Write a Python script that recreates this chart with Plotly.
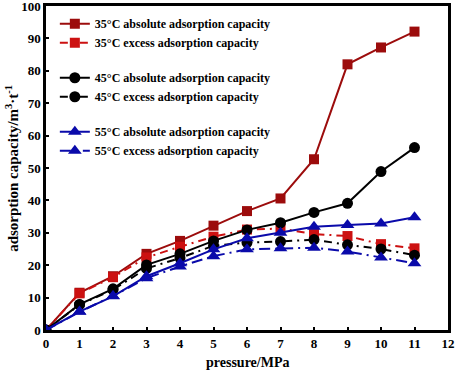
import plotly.graph_objects as go

pressure = [0, 1, 2, 3, 4, 5, 6, 7, 8, 9, 10, 11]

abs_35 = [0, 11.5, 16.6, 23.5, 27.5, 32.2, 36.7, 40.6, 52.7, 82.0, 87.2, 92.1]
exc_35 = [0, 11.3, 16.3, 22.4, 25.7, 28.8, 31.0, 31.3, 29.6, 29.0, 26.5, 25.2]
abs_45 = [0, 7.9, 12.7, 20.1, 23.5, 27.5, 30.9, 33.1, 36.3, 39.1, 48.9, 56.3]
exc_45 = [0, 7.8, 12.4, 19.0, 22.2, 26.0, 27.0, 27.3, 27.9, 26.3, 25.0, 23.1]
abs_55 = [0, 5.7, 10.4, 16.6, 20.6, 24.9, 28.3, 30.0, 31.9, 32.4, 32.9, 34.8]
exc_55 = [0, 5.6, 10.5, 16.0, 19.6, 22.8, 24.9, 25.2, 25.4, 24.2, 22.4, 20.6]

names = [
    "35°C absolute adsorption capacity",
    "35°C excess adsorption capacity",
    "45°C absolute adsorption capacity",
    "45°C excess adsorption capacity",
    "55°C absolute adsorption capacity",
    "55°C excess adsorption capacity",
]
x_title = "pressure/MPa"
y_title = "adsorption capacity/m<sup>3</sup>·t<sup>-1</sup>"

series = [abs_35, exc_35, abs_45, exc_45, abs_55, exc_55]
colors = ["#9C0C0C", "#CC1111", "#000000", "#000000", "#0A0AAA", "#0A0AAA"]
symbols = ["square", "square", "circle", "circle", "triangle-up", "triangle-up"]
sizes = [10, 10, 11, 11, 12, 12]
dashes = ["solid", "8px,5px,2px,5px", "solid", "8px,5px,2px,5px", "solid", "11px,5px,2px,5px"]
groups = ["35", "35", "45", "45", "55", "55"]

fig = go.Figure()
for name, ys, c, s, sz, d, g in zip(names, series, colors, symbols, sizes, dashes, groups):
    fig.add_trace(go.Scatter(
        x=pressure, y=ys, name=name, mode="lines+markers",
        line=dict(color=c, width=2, dash=d),
        marker=dict(symbol=s, size=sz, color=c),
        legendgroup=g,
    ))

font = "Liberation Serif, Times New Roman, serif"
axis_common = dict(
    showline=True, linecolor="black", linewidth=2.5, mirror=True,
    ticks="inside", ticklen=3, tickwidth=1.5, tickcolor="black",
    showgrid=False, zeroline=False, automargin=False,
    ticklabeloverflow="allow",
    tickfont=dict(family=font, size=13, weight="bold"),
)
fig.update_layout(
    width=457, height=373,
    margin=dict(l=46, r=9, t=6, b=43, autoexpand=False),
    paper_bgcolor="white", plot_bgcolor="white",
    font=dict(family=font, size=12, color="black"),
    showlegend=True,
    legend=dict(
        x=0.022, y=0.99, xanchor="left", yanchor="top",
        bgcolor="rgba(0,0,0,0)", tracegroupgap=16, traceorder="grouped",
        font=dict(family=font, size=12, color="black", weight="bold"),
        itemwidth=30,
    ),
    xaxis=dict(range=[0, 12], dtick=1, tick0=0, **axis_common),
    yaxis=dict(range=[0, 100], dtick=10, tick0=0, **axis_common),
    annotations=[
        dict(text=x_title, xref="paper", yref="paper", x=0.5, y=-0.099,
             xanchor="center", yanchor="middle", showarrow=False,
             font=dict(family=font, size=14, weight="bold")),
        dict(text=y_title, xref="paper", yref="paper", x=-0.085, y=0.5,
             xanchor="center", yanchor="middle", showarrow=False, textangle=-90,
             font=dict(family=font, size=15, weight="bold")),
    ],
)

fig.write_html(
    "out.html",
    config={"displayModeBar": False},
    post_script="document.body.style.margin='0';document.body.style.overflow='hidden';",
)
